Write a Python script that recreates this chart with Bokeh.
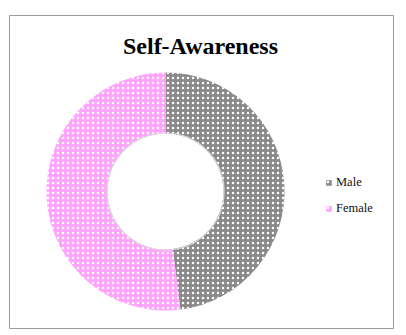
import math
from bokeh.plotting import figure
from bokeh.models import ColumnDataSource, Label, Legend, LegendItem
from bokeh.embed import file_html
from bokeh.resources import INLINE

# ---- data ----
categories = ["Male", "Female"]
values = [48, 52]
colors = ["#8A8A8A", "#FFA3FF"]
title_text = "Self-Awareness"

# ---- derived wedge angles (start at 12 o'clock, clockwise) ----
total = float(sum(values))
starts, ends = [], []
acc = 0.0
for v in values:
    s = math.pi / 2 - acc / total * 2 * math.pi
    acc += v
    e = math.pi / 2 - acc / total * 2 * math.pi
    starts.append(s)
    ends.append(e)

src = ColumnDataSource(dict(cat=categories, val=values, color=colors,
                            start=starts, end=ends))

W, H = 406, 335
ml, mt, mr, mb = 9, 15, 13, 7
fw, fh = W - ml - mr, H - mt - mb

p = figure(width=W, height=H, output_backend="svg", toolbar_location=None,
           x_range=(0, fw), y_range=(0, fh),
           min_border_left=ml, min_border_top=mt,
           min_border_right=mr, min_border_bottom=mb)
p.axis.visible = False
p.grid.visible = False
p.outline_line_color = "#9a9a9a"
p.outline_line_width = 1
p.background_fill_color = "white"
p.border_fill_color = "white"

cx, cy = 156, 137
r = p.annular_wedge(x=cx, y=cy, inner_radius=58, outer_radius=119,
                    start_angle="start", end_angle="end", direction="clock",
                    fill_color="color", line_color=None,
                    hatch_pattern="dot", hatch_color="white",
                    hatch_scale=5, hatch_weight=0.4, source=src)

# soft shadow edge around the hole
p.circle(x=cx, y=cy, radius=58.5, fill_color=None, line_color="#d8d8d8", line_width=1.2)

items = [LegendItem(label=c, renderers=[r], index=i) for i, c in enumerate(categories)]
legend = Legend(items=items, location=(316, 112), orientation="vertical",
                glyph_width=7, glyph_height=7, label_height=14, spacing=11,
                label_standoff=4, padding=0, margin=0,
                border_line_color=None, background_fill_alpha=0,
                label_text_font="Liberation Serif", label_text_font_size="12.5px",
                label_text_color="#111111")
p.add_layout(legend, "center")

title = Label(x=191, y=283, text=title_text, text_align="center",
              text_baseline="middle", text_font="Liberation Serif",
              text_font_style="bold", text_font_size="24px", text_color="black")
p.add_layout(title)

open("out.html", "w").write(file_html(p, INLINE))
